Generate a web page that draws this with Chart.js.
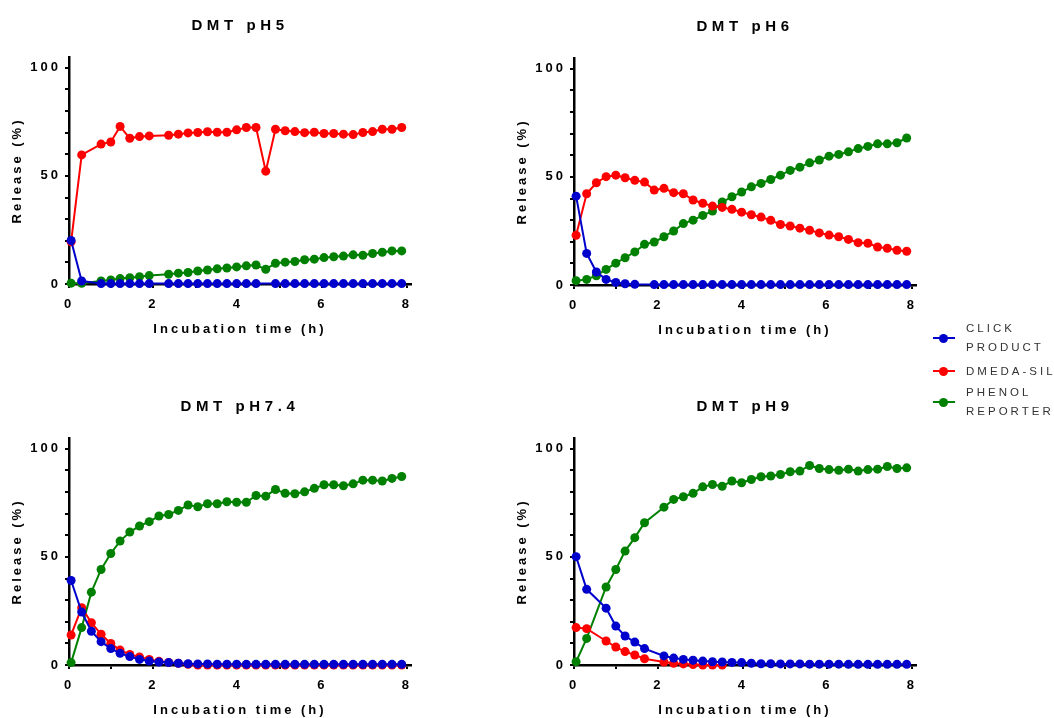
<!DOCTYPE html>
<html lang="en">
<head>
  <meta charset="UTF-8">
  <title>DMT release</title>
  <script src="https://cdn.jsdelivr.net/npm/chart.js"></script>
  <style>
    body {
      margin: 0;
      background: #fff;
      width: 1054px;
      height: 718px;
      position: relative;
      overflow: hidden;
      font-family: Arial, "Liberation Sans", sans-serif;
    }
    .panel { position: absolute; width: 475px; height: 346px; }
    .panel canvas { position: absolute; left: 0; top: 0; }
    .title {
      position: absolute;
      left: 69px;
      width: 342px;
      top: 17px;
      text-align: center;
      font-weight: bold;
      font-size: 15px;
      line-height: 18px;
      letter-spacing: 4.6px;
      color: #000;
    }
    .legend-row { position: absolute; left: 933px; }
    .legend-row .mark { position: absolute; left: 0; width: 22px; height: 2px; }
    .legend-row .dot { position: absolute; left: 6px; top: -3.5px; width: 9px; height: 9px; border-radius: 50%; }
    .legend-row .txt {
      position: absolute;
      left: 33px;
      font-size: 11.5px;
      letter-spacing: 3px;
      line-height: 19px;
      color: #333;
      white-space: nowrap;
    }
  </style>
</head>
<body>
  <div class="panel" style="left:0; top:-1px;"><canvas id="ph5" width="475" height="346"></canvas><div class="title">DMT pH5</div></div>
  <div class="panel" style="left:505px; top:0;"><canvas id="ph6" width="475" height="346"></canvas><div class="title">DMT pH6</div></div>
  <div class="panel" style="left:0; top:380px;"><canvas id="ph74" width="475" height="346"></canvas><div class="title">DMT pH7.4</div></div>
  <div class="panel" style="left:505px; top:380px;"><canvas id="ph9" width="475" height="346"></canvas><div class="title">DMT pH9</div></div>
  <div id="legend"></div>

  <script>
    // sampling times (h)
    const hours = [0.05, 0.30, 0.53, 0.76, 0.99, 1.21, 1.44, 1.67, 1.90, 2.13, 2.36, 2.59, 2.82, 3.05, 3.28, 3.51, 3.74,
                   3.97, 4.20, 4.43, 4.66, 4.89, 5.12, 5.35, 5.58, 5.81, 6.04, 6.27, 6.50, 6.73, 6.96, 7.19, 7.42, 7.65, 7.88];

    const xTicks = [0, 1, 2, 3, 4, 5, 6, 7, 8];
    const xLabels = [0, 2, 4, 6, 8];
    const yTicks = [0, 10, 20, 30, 40, 50, 60, 70, 80, 90, 100];
    const yLabels = [0, 50, 100];

    const seriesNames = ['CLICK PRODUCT', 'DMEDA-SIL', 'PHENOL REPORTER'];
    const legendLines = [['CLICK', 'PRODUCT'], ['DMEDA-SIL'], ['PHENOL', 'REPORTER']];
    const seriesColors = ['#0000cc', '#ff0000', '#008000'];

    // pH 5
    const ph5Click = [20.1, 1.4, null, 0.2, 0.2, 0.2, 0.2, 0.2, 0.2, null, 0.2, 0.2, 0.2, 0.2, 0.2, 0.2, 0.2, 0.2,
                      0.2, 0.2, null, 0.2, 0.2, 0.2, 0.2, 0.2, 0.2, 0.2, 0.2, 0.2, 0.2, 0.2, 0.2, 0.2, 0.2];
    const ph5Dmeda = [19.5, 59.7, null, 64.7, 65.7, 72.9, 67.4, 68.2, 68.5, null, 68.8, 69.3, 69.9, 70.1, 70.4, 70.2,
                      70.2, 71.3, 72.4, 72.4, 52.2, 71.6, 70.9, 70.5, 70.0, 70.2, 69.6, 69.6, 69.3, 69.1, 70.1, 70.5,
                      71.6, 71.6, 72.4];
    const ph5Phenol = [0.4, 0.3, null, 1.4, 1.9, 2.5, 2.9, 3.4, 3.9, null, 4.5, 5.0, 5.3, 6.0, 6.5, 7.0, 7.4, 7.9, 8.4,
                       8.8, 6.8, 9.6, 10.1, 10.4, 11.2, 11.5, 12.2, 12.6, 12.9, 13.5, 13.3, 14.1, 14.7, 15.3, 15.3];

    // pH 6
    const ph6Click = [41.1, 14.6, 6.0, 2.6, 1.2, 0.6, 0.3, null, 0.2, 0.2, 0.2, 0.2, 0.2, 0.2, 0.2, 0.2, 0.2, 0.2, 0.2,
                      0.2, 0.2, 0.2, 0.2, 0.2, 0.2, 0.2, 0.2, 0.2, 0.2, 0.2, 0.2, 0.2, 0.2, 0.2, 0.2];
    const ph6Dmeda = [23.0, 42.2, 47.3, 50.1, 50.8, 49.6, 48.4, 47.6, 43.9, 44.7, 42.7, 42.2, 39.3, 37.8, 36.5, 35.9,
                      35.0, 33.7, 32.5, 31.4, 29.9, 28.0, 27.3, 26.3, 25.3, 24.1, 23.1, 22.3, 21.1, 19.6, 19.3, 17.6,
                      17.0, 16.1, 15.6];
    const ph6Phenol = [2.0, 2.6, 4.3, 7.2, 10.1, 12.6, 15.3, 18.8, 19.9, 22.3, 25.0, 28.4, 30.0, 32.2, 34.2, 38.4, 40.8,
                       43.0, 45.4, 47.0, 48.8, 50.8, 53.0, 54.5, 56.5, 57.8, 59.6, 60.4, 61.6, 63.1, 64.1, 65.3, 65.3,
                       65.8, 68.0];

    // pH 7.4
    const ph74Click = [39.1, 24.5, 15.6, 10.8, 7.6, 5.4, 3.9, 2.6, 1.8, 1.4, 1.1, 0.8, 0.6, 0.5, 0.5, 0.4, 0.4, 0.4,
                       0.3, 0.3, 0.3, 0.3, 0.3, 0.3, 0.3, 0.3, 0.3, 0.3, 0.3, 0.3, 0.3, 0.3, 0.3, 0.3, 0.3];
    const ph74Dmeda = [13.9, 26.5, 19.6, 14.2, 10.0, 6.9, 4.9, 3.7, 2.6, 1.7, 1.2, 0.8, 0.3, 0, 0, 0, 0, 0, 0, 0, 0, 0,
                       0, 0, 0, 0, 0, 0, 0, 0, 0, 0, 0, 0, 0];
    const ph74Phenol = [1.1, 17.3, 33.7, 44.2, 51.6, 57.3, 61.5, 64.3, 66.3, 68.9, 69.6, 71.5, 74.0, 73.2, 74.6, 74.6,
                        75.5, 75.3, 75.3, 78.4, 78.1, 81.2, 79.4, 79.2, 80.1, 81.7, 83.4, 83.4, 82.9, 83.8, 85.5, 85.5,
                        85.1, 86.3, 87.2];

    // pH 9
    const ph9Click = [50.1, 35.0, null, 26.3, 18.0, 13.4, 10.6, 7.6, null, 4.2, 3.2, 2.6, 2.2, 1.8, 1.5, 1.4, 1.2, 1.1,
                      0.8, 0.6, 0.6, 0.5, 0.5, 0.5, 0.4, 0.4, 0.4, 0.4, 0.3, 0.3, 0.3, 0.3, 0.3, 0.3, 0.3];
    const ph9Dmeda = [17.3, 16.8, null, 11.1, 8.3, 6.2, 4.6, 2.9, null, 1.4, 0.8, 0.5, 0.2, 0, 0, 0, null, null, null,
                      null, null, null, null, null, null, null, null, null, null, null, null, null, null, null, null];
    const ph9Phenol = [1.5, 12.3, null, 36.1, 44.2, 52.7, 58.9, 65.8, null, 73.0, 76.6, 77.8, 79.4, 82.4, 83.5, 82.7,
                       85.1, 84.3, 85.8, 87.1, 87.4, 88.1, 89.4, 89.7, 92.3, 90.9, 90.4, 90.1, 90.6, 89.7, 90.4, 90.6,
                       91.8, 90.9, 91.2];

    Chart.defaults.font.family = 'Arial, "Liberation Sans", sans-serif';
    Chart.defaults.color = '#000';

    // canvas text gets the same wide spacing as the original figure
    const spacing = { id: 'spacing', beforeDraw(chart) { chart.ctx.letterSpacing = '3px'; } };

    function toPoints(vals) {
      return hours.map((h, i) => ({ x: h, y: vals[i] })).filter(p => p.y !== null);
    }

    function makeChart(id, click, dmeda, phenol) {
      const series = [click, dmeda, phenol];
      new Chart(document.getElementById(id), {
        type: 'line',
        data: {
          datasets: series.map((vals, i) => ({
            label: seriesNames[i],
            data: toPoints(vals),
            borderColor: seriesColors[i],
            backgroundColor: seriesColors[i],
            pointBackgroundColor: seriesColors[i],
            pointBorderColor: seriesColors[i],
            borderWidth: 2,
            pointRadius: 4.5,
            pointBorderWidth: 0,
            tension: 0,
            clip: false
          }))
        },
        options: {
          responsive: false,
          animation: false,
          events: [],
          layout: { padding: { top: 58, right: 64, left: 0, bottom: 0 } },
          plugins: { legend: { display: false }, tooltip: { enabled: false } },
          scales: {
            x: {
              type: 'linear',
              min: 0,
              max: 8.1,
              afterBuildTicks: s => { s.ticks = xTicks.map(v => ({ value: v })); },
              afterFit: s => { s.height = 61; },
              ticks: {
                autoSkip: false,
                maxRotation: 0,
                padding: 9,
                font: { size: 13, weight: 'bold' },
                callback: v => xLabels.includes(v) ? String(v) : ''
              },
              grid: { drawOnChartArea: false, drawTicks: true, tickLength: 4, color: '#000', lineWidth: 2 },
              border: { display: true, color: '#000', width: 2.5 },
              title: {
                display: true,
                text: 'Incubation time (h)',
                font: { size: 13, weight: 'bold' },
                padding: { top: 0, bottom: 8 }
              }
            },
            y: {
              min: 0,
              max: 105,
              afterBuildTicks: s => { s.ticks = yTicks.map(v => ({ value: v })); },
              afterFit: s => { s.width = 69; },
              ticks: {
                autoSkip: false,
                padding: 4,
                font: { size: 13, weight: 'bold' },
                callback: v => yLabels.includes(v) ? String(v) : ''
              },
              grid: { drawOnChartArea: false, drawTicks: true, tickLength: 4, color: '#000', lineWidth: 2 },
              border: { display: true, color: '#000', width: 2.5 },
              title: {
                display: true,
                text: 'Release (%)',
                font: { size: 13, weight: 'bold' },
                padding: { top: 10, bottom: 0 }
              }
            }
          }
        },
        plugins: [spacing]
      });
    }

    makeChart('ph5', ph5Click, ph5Dmeda, ph5Phenol);
    makeChart('ph6', ph6Click, ph6Dmeda, ph6Phenol);
    makeChart('ph74', ph74Click, ph74Dmeda, ph74Phenol);
    makeChart('ph9', ph9Click, ph9Dmeda, ph9Phenol);

    // legend on the right
    const legendTops = [337, 370, 401];
    const legend = document.getElementById('legend');
    legendLines.forEach((lines, i) => {
      const row = document.createElement('div');
      row.className = 'legend-row';
      row.style.top = legendTops[i] + 'px';
      row.innerHTML =
        '<div class="mark" style="background:' + seriesColors[i] + '"></div>' +
        '<div class="dot" style="background:' + seriesColors[i] + '"></div>' +
        '<div class="txt" style="top:' + (1 - lines.length * 9.5) + 'px">' + lines.join('<br>') + '</div>';
      legend.appendChild(row);
    });
  </script>
</body>
</html>
